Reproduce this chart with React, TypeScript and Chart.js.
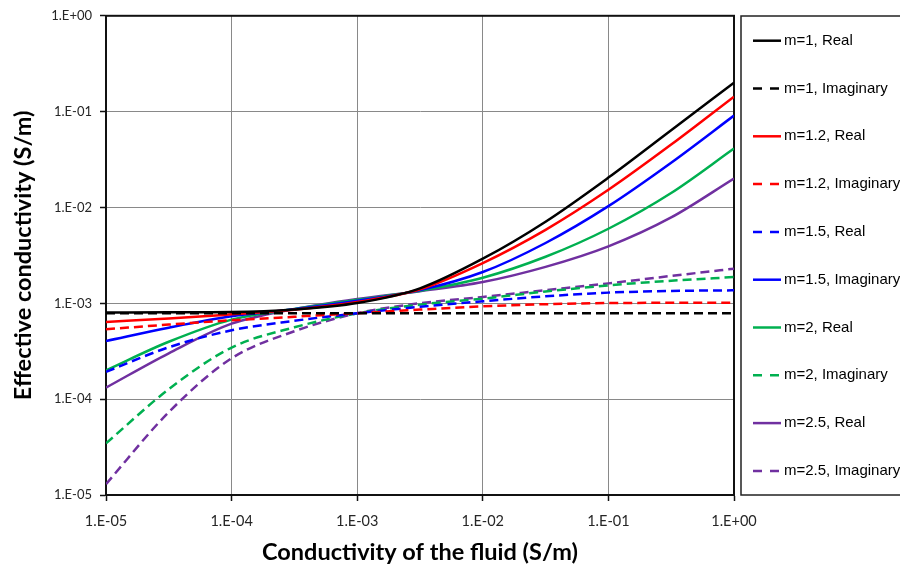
import React, { useEffect, useRef } from 'react';
import { Chart, registerables } from 'chart.js';

Chart.register(...registerables);

// Conductivity of the fluid (S/m)
const fluidConductivity = [1e-5, 3.16e-5, 1e-4, 3.16e-4, 1e-3, 3.16e-3, 1e-2, 3.16e-2, 1e-1, 3.16e-1, 1];

// Effective conductivity (S/m)
const m1Real = [8.0e-4, 8.06e-4, 8.12e-4, 8.64e-4, 1.007e-3, 1.433e-3, 2.92e-3, 7.11e-3, 0.0205, 0.064, 0.2005];
const m1Imag = [7.87e-4, 7.87e-4, 7.87e-4, 7.87e-4, 7.87e-4, 7.87e-4, 7.87e-4, 7.87e-4, 7.87e-4, 7.87e-4, 7.87e-4];
const m12Real = [6.39e-4, 6.93e-4, 7.68e-4, 8.58e-4, 1.032e-3, 1.4e-3, 2.63e-3, 5.84e-3, 0.01529, 0.0453, 0.1433];
const m12Imag = [5.36e-4, 6.0e-4, 6.65e-4, 7.24e-4, 7.87e-4, 8.6e-4, 9.31e-4, 9.79e-4, 1.007e-3, 1.012e-3, 1.017e-3];
const m15Dashed = [1.93e-4, 3.48e-4, 5.23e-4, 6.57e-4, 7.87e-4, 9.19e-4, 1.049e-3, 1.183e-3, 1.293e-3, 1.346e-3, 1.366e-3];
const m15Solid = [4.05e-4, 5.57e-4, 7.32e-4, 8.66e-4, 1.062e-3, 1.372e-3, 2.12e-3, 4.26e-3, 0.01032, 0.0293, 0.0909];
const m2Real = [2.0e-4, 3.97e-4, 6.76e-4, 8.74e-4, 1.088e-3, 1.35e-3, 1.85e-3, 3.06e-3, 6.0e-3, 0.01416, 0.0412];
const m2Imag = [3.46e-5, 1.27e-4, 3.455e-4, 5.62e-4, 7.87e-4, 9.69e-4, 1.119e-3, 1.327e-3, 1.54e-3, 1.72e-3, 1.88e-3];
const m25Real = [1.32e-4, 3.01e-4, 6.14e-4, 8.7e-4, 1.109e-3, 1.337e-3, 1.667e-3, 2.4e-3, 3.93e-3, 7.87e-3, 0.02005];
const m25Imag = [1.3e-5, 7.32e-5, 2.67e-4, 5.11e-4, 7.87e-4, 1.002e-3, 1.164e-3, 1.37e-3, 1.615e-3, 1.93e-3, 2.3e-3];

const seriesLabels = [
  'm=1, Real', 'm=1, Imaginary', 'm=1.2, Real', 'm=1.2, Imaginary',
  'm=1.5, Real', 'm=1.5, Imaginary', 'm=2, Real', 'm=2, Imaginary',
  'm=2.5, Real', 'm=2.5, Imaginary',
];

const axisTicks = [1e-5, 1e-4, 1e-3, 1e-2, 1e-1, 1];
const tickLabels = ['1.E-05', '1.E-04', '1.E-03', '1.E-02', '1.E-01', '1.E+00'];

const xTitle = 'Conductivity of the fluid (S/m)';
const yTitle = 'Effective conductivity (S/m)';

const DASH = [9, 5];

const seriesStyles = [
  { color: '#000000', dashed: false },
  { color: '#000000', dashed: true },
  { color: '#FF0000', dashed: false },
  { color: '#FF0000', dashed: true },
  { color: '#0000FF', dashed: true },
  { color: '#0000FF', dashed: false },
  { color: '#00B050', dashed: false },
  { color: '#00B050', dashed: true },
  { color: '#7030A0', dashed: false },
  { color: '#7030A0', dashed: true },
];

const seriesValues = [m1Real, m1Imag, m12Real, m12Imag, m15Dashed, m15Solid, m2Real, m2Imag, m25Real, m25Imag];

const frameAndLegend = {
  id: 'frameAndLegend',
  beforeDatasetsDraw(chart: any) {
    const { ctx, chartArea } = chart;
    ctx.save();
    ctx.strokeStyle = '#111';
    ctx.lineWidth = 2;
    ctx.strokeRect(chartArea.left, chartArea.top, chartArea.right - chartArea.left, chartArea.bottom - chartArea.top);
    ctx.restore();
  },
  afterDraw(chart: any) {
    const { ctx } = chart;
    ctx.save();
    ctx.strokeStyle = '#222';
    ctx.lineWidth = 1.5;
    ctx.strokeRect(741, 16, 175, 479);
    ctx.font = '15px "Liberation Sans", Arial, sans-serif';
    ctx.textBaseline = 'middle';
    ctx.textAlign = 'left';
    chart.data.datasets.forEach((ds: any, i: number) => {
      const y = 40.7 + i * 47.8;
      ctx.strokeStyle = ds.borderColor;
      ctx.lineWidth = 2.5;
      ctx.setLineDash(ds.borderDash && ds.borderDash.length ? [9, 8] : []);
      ctx.beginPath();
      ctx.moveTo(753, y);
      ctx.lineTo(781, y);
      ctx.stroke();
      ctx.setLineDash([]);
      ctx.fillStyle = '#000';
      ctx.fillText(ds.label, 784, y);
    });
    ctx.restore();
  },
};

export default function App() {
  const canvasRef = useRef<HTMLCanvasElement | null>(null);

  useEffect(() => {
    const canvas = canvasRef.current;
    if (!canvas) return;
    const datasets = seriesValues.map((vals, i) => ({
      label: seriesLabels[i],
      data: fluidConductivity.map((x, j) => ({ x, y: vals[j] })),
      borderColor: seriesStyles[i].color,
      backgroundColor: seriesStyles[i].color,
      borderDash: seriesStyles[i].dashed ? DASH : [],
      borderWidth: 2.5,
      pointRadius: 0,
      cubicInterpolationMode: 'monotone' as const,
      fill: false,
    }));

    const chart = new Chart(canvas, {
      type: 'line',
      data: { datasets },
      options: {
        responsive: false,
        devicePixelRatio: 1,
        animation: false,
        layout: { padding: { left: 0, top: 15, right: 166, bottom: 0 } },
        plugins: { legend: { display: false }, tooltip: { enabled: false } },
        scales: {
          x: {
            type: 'logarithmic',
            min: 1e-5,
            max: 1,
            afterBuildTicks: (scale: any) => {
              scale.ticks = axisTicks.map((v) => ({ value: v }));
            },
            afterFit: (scale: any) => {
              scale.height = 76;
            },
            ticks: {
              autoSkip: false,
              maxRotation: 0,
              padding: 12,
              color: '#262626',
              font: { family: 'Lato', size: 14.5 },
              callback: (_v: any, i: number) => tickLabels[i],
            },
            grid: { color: '#898989', lineWidth: 1, tickColor: '#111', tickLength: 6, tickWidth: 1.5 },
            border: { color: '#111', width: 2 },
            title: {
              display: true,
              text: xTitle,
              color: '#000',
              font: { family: 'Lato', size: 23.5, weight: 'bold' },
              padding: { top: 0, bottom: 4 },
            },
          },
          y: {
            type: 'logarithmic',
            min: 1e-5,
            max: 1,
            afterBuildTicks: (scale: any) => {
              scale.ticks = axisTicks.map((v) => ({ value: v }));
            },
            afterFit: (scale: any) => {
              scale.width = 106;
            },
            ticks: {
              autoSkip: false,
              padding: 8,
              color: '#262626',
              font: { family: 'Lato', size: 13 },
              callback: (_v: any, i: number) => tickLabels[i],
            },
            grid: { color: '#898989', lineWidth: 1, tickColor: '#111', tickLength: 6, tickWidth: 1.5 },
            border: { color: '#111', width: 2 },
            title: {
              display: true,
              text: yTitle,
              color: '#000',
              font: { family: 'Lato', size: 23.5, weight: 'bold' },
              padding: { top: 9, bottom: 0 },
            },
          },
        },
      },
      plugins: [frameAndLegend],
    });
    return () => chart.destroy();
  }, []);

  return (
    <div style={{ position: 'absolute', left: 0, top: 0, width: 900, height: 571, background: '#fff' }}>
      <canvas ref={canvasRef} width={900} height={571} style={{ display: 'block' }} />
    </div>
  );
}
